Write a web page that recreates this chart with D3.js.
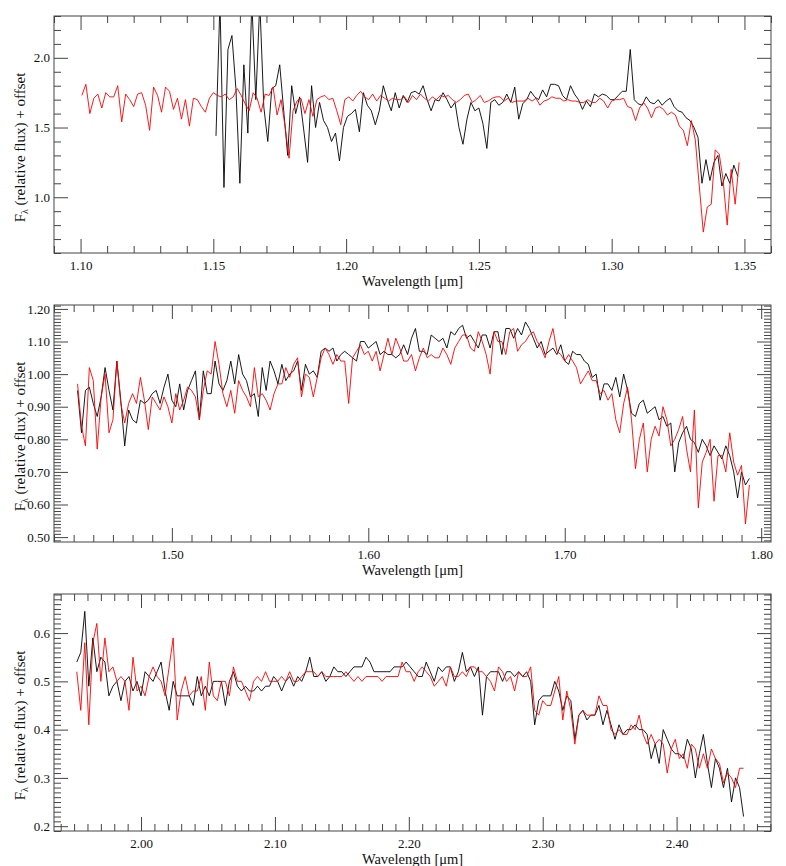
<!DOCTYPE html>
<html>
<head>
<meta charset="utf-8">
<script src="https://cdn.jsdelivr.net/npm/d3@7"></script>
<style>
  body { margin: 0; background: #fff; }
</style>
</head>
<body>
<div id="chart"></div>
<script>
// ---- data: spectra on a regular wavelength grid (start, step) ----
// J band
var jBlackStart = 1.151, jBlackStep = 0.0015;
var jBlack = [
  1.44, 2.40, 1.07, 2.06, 2.16, 1.78, 1.10, 1.95, 1.46, 2.40,
  1.70, 2.40, 1.65, 1.40, 1.78, 1.80, 1.95, 1.62, 1.30, 1.80,
  1.60, 1.72, 1.49, 1.25, 1.80, 1.50, 1.68, 1.55, 1.50, 1.40,
  1.46, 1.26, 1.50, 1.58, 1.60, 1.63, 1.47, 1.75, 1.66, 1.62,
  1.52, 1.62, 1.80, 1.70, 1.62, 1.75, 1.64, 1.73, 1.68, 1.75,
  1.76, 1.74, 1.80, 1.70, 1.62, 1.70, 1.69, 1.75, 1.70, 1.64,
  1.68, 1.50, 1.38, 1.56, 1.68, 1.62, 1.64, 1.53, 1.35, 1.68,
  1.70, 1.66, 1.68, 1.74, 1.68, 1.79, 1.56, 1.67, 1.70, 1.76,
  1.72, 1.70, 1.77, 1.72, 1.81, 1.81, 1.80, 1.73, 1.70, 1.80,
  1.74, 1.70, 1.63, 1.69, 1.65, 1.74, 1.72, 1.74, 1.73, 1.70,
  1.70, 1.73, 1.76, 1.76, 2.06, 1.70, 1.67, 1.66, 1.72, 1.68,
  1.67, 1.70, 1.66, 1.69, 1.71, 1.65, 1.62, 1.61, 1.57, 1.55,
  1.50, 1.43, 1.10, 1.27, 1.12, 1.25, 1.30, 1.08, 1.17, 1.10,
  1.23, 1.15
];
var jRedStart = 1.1005, jRedStep = 0.0015;
var jRed = [
  1.73, 1.81, 1.60, 1.71, 1.74, 1.64, 1.75, 1.72, 1.72, 1.80,
  1.54, 1.74, 1.70, 1.65, 1.74, 1.75, 1.66, 1.48, 1.79, 1.73,
  1.61, 1.79, 1.76, 1.63, 1.71, 1.56, 1.70, 1.51, 1.71, 1.70,
  1.65, 1.61, 1.71, 1.75, 1.73, 1.72, 1.74, 1.70, 1.72, 1.78,
  1.73, 1.67, 1.62, 1.75, 1.71, 1.61, 1.74, 1.73, 1.79, 1.59,
  1.70, 1.51, 1.28, 1.62, 1.69, 1.71, 1.60, 1.70, 1.58, 1.70,
  1.72, 1.73, 1.70, 1.71, 1.62, 1.52, 1.70, 1.72, 1.69, 1.73,
  1.76, 1.72, 1.70, 1.74, 1.69, 1.73, 1.71, 1.69, 1.71, 1.70,
  1.70, 1.72, 1.68, 1.73, 1.70, 1.74, 1.71, 1.69, 1.72, 1.70,
  1.73, 1.72, 1.73, 1.70, 1.68, 1.70, 1.73, 1.74, 1.68, 1.70,
  1.73, 1.68, 1.69, 1.71, 1.72, 1.72, 1.69, 1.71, 1.68, 1.69,
  1.69, 1.69, 1.71, 1.69, 1.71, 1.66, 1.69, 1.70, 1.72, 1.71,
  1.71, 1.69, 1.70, 1.69, 1.69, 1.68, 1.68, 1.70, 1.68, 1.68,
  1.71, 1.69, 1.64, 1.69, 1.70, 1.70, 1.71, 1.65, 1.64, 1.55,
  1.64, 1.68, 1.64, 1.57, 1.64, 1.65, 1.63, 1.59, 1.61, 1.59,
  1.51, 1.48, 1.37, 1.55, 1.41, 1.08, 0.75, 0.93, 0.95, 1.34,
  1.31, 1.12, 0.80, 1.20, 0.95, 1.25
];

// H band
var hStart = 1.452, hStep = 0.002;
var hBlack = [
  0.95, 0.82, 0.95, 0.96, 0.91, 0.87, 0.93, 1.02, 0.95, 0.89,
  1.04, 0.92, 0.78, 0.89, 0.86, 0.85, 0.92, 0.91, 0.92, 0.94,
  0.95, 0.91, 0.96, 1.00, 0.92, 0.90, 0.97, 0.89, 0.95, 0.98,
  1.01, 0.86, 1.01, 0.94, 0.94, 1.04, 0.97, 0.95, 0.98, 1.04,
  0.97, 1.06, 1.00, 0.98, 0.93, 0.94, 0.87, 1.02, 0.95, 1.04,
  1.01, 0.97, 1.03, 0.98, 1.00, 1.01, 1.04, 0.95, 1.03, 1.00,
  1.01, 0.99, 1.07, 1.08, 1.07, 1.08, 1.04, 1.06, 1.07, 1.06,
  1.05, 1.04, 1.10, 1.10, 1.08, 1.09, 1.10, 1.06, 1.07, 1.06,
  1.06, 1.05, 1.06, 1.09, 1.06, 1.11, 1.14, 1.07, 1.07, 1.06,
  1.12, 1.11, 1.10, 1.11, 1.08, 1.13, 1.12, 1.14, 1.15, 1.11,
  1.12, 1.10, 1.08, 1.12, 1.12, 1.08, 1.13, 1.13, 1.06, 1.14,
  1.14, 1.11, 1.14, 1.12, 1.16, 1.14, 1.11, 1.08, 1.10, 1.06,
  1.07, 1.08, 1.06, 1.09, 1.04, 1.03, 1.07, 1.06, 1.06, 1.04,
  1.03, 0.99, 1.00, 0.92, 0.97, 0.97, 0.95, 0.99, 0.93, 1.00,
  0.95, 0.88, 0.87, 0.91, 0.92, 0.88, 0.89, 0.90, 0.86, 0.87,
  0.84, 0.85, 0.70, 0.79, 0.82, 0.84, 0.80, 0.79, 0.76, 0.80,
  0.78, 0.75, 0.78, 0.76, 0.74, 0.78, 0.75, 0.70, 0.62, 0.70,
  0.66, 0.68
];
var hRed = [
  0.97, 0.84, 0.78, 1.02, 0.98, 0.77, 0.93, 1.00, 0.82, 0.86,
  1.04, 0.91, 0.85, 0.91, 0.94, 0.91, 0.99, 0.92, 0.83, 0.93,
  0.91, 0.89, 0.93, 0.90, 0.85, 0.94, 0.89, 0.92, 0.96, 0.95,
  0.93, 0.86, 0.95, 1.01, 1.00, 1.10, 1.03, 0.94, 0.90, 0.95,
  0.88, 0.98, 0.95, 0.93, 0.90, 1.02, 0.93, 0.94, 0.92, 0.89,
  0.94, 0.97, 0.97, 1.02, 0.99, 1.03, 1.05, 0.93, 1.00, 0.99,
  0.93, 0.99, 1.05, 1.08, 1.06, 1.03, 1.06, 1.04, 1.04, 0.91,
  1.05, 1.07, 1.09, 1.06, 1.07, 1.04, 1.07, 1.01, 1.06, 1.11,
  1.06, 1.11, 1.08, 1.04, 1.04, 1.06, 1.01, 1.05, 1.08, 1.05,
  1.06, 1.05, 1.05, 1.08, 1.06, 1.03, 1.08, 1.10, 1.12, 1.12,
  1.08, 1.07, 1.13, 1.10, 1.06, 1.00, 1.13, 1.10, 1.10, 1.06,
  1.13, 1.14, 1.07, 1.09, 1.10, 1.12, 1.13, 1.10, 1.08, 1.05,
  1.10, 1.14, 1.07, 1.06, 1.04, 1.06, 1.04, 1.02, 0.97, 0.99,
  1.01, 0.98, 0.98, 0.94, 0.95, 0.92, 0.94, 0.86, 0.82, 0.91,
  0.96, 0.86, 0.71, 0.80, 0.85, 0.70, 0.80, 0.84, 0.81, 0.90,
  0.86, 0.78, 0.80, 0.83, 0.87, 0.77, 0.70, 0.89, 0.59, 0.73,
  0.76, 0.80, 0.61, 0.75, 0.75, 0.70, 0.82, 0.73, 0.69, 0.72,
  0.54, 0.66
];

// K band
var kStart = 1.952, kStep = 0.003;
var kBlack = [
  0.54, 0.56, 0.645, 0.49, 0.59, 0.52, 0.55, 0.54, 0.47, 0.49,
  0.50, 0.46, 0.50, 0.51, 0.48, 0.50, 0.47, 0.52, 0.51, 0.50,
  0.52, 0.54, 0.48, 0.44, 0.50, 0.47, 0.47, 0.47, 0.47, 0.45,
  0.51, 0.47, 0.49, 0.47, 0.50, 0.50, 0.50, 0.45, 0.50, 0.52,
  0.49, 0.48, 0.49, 0.48, 0.48, 0.49, 0.48, 0.49, 0.49, 0.51,
  0.50, 0.48, 0.50, 0.51, 0.49, 0.51, 0.50, 0.52, 0.55, 0.51,
  0.51, 0.52, 0.50, 0.51, 0.53, 0.52, 0.52, 0.51, 0.52, 0.53,
  0.53, 0.53, 0.55, 0.54, 0.52, 0.52, 0.52, 0.52, 0.52, 0.53,
  0.53, 0.53, 0.54, 0.53, 0.52, 0.51, 0.51, 0.54, 0.52, 0.50,
  0.53, 0.52, 0.53, 0.53, 0.50, 0.52, 0.56, 0.52, 0.53, 0.51,
  0.53, 0.43, 0.51, 0.52, 0.52, 0.52, 0.50, 0.52, 0.52, 0.51,
  0.52, 0.51, 0.52, 0.50, 0.41, 0.46, 0.47, 0.47, 0.47, 0.50,
  0.48, 0.44, 0.47, 0.46, 0.38, 0.43, 0.44, 0.42, 0.43, 0.43,
  0.45, 0.41, 0.44, 0.41, 0.38, 0.41, 0.39, 0.40, 0.40, 0.41,
  0.40, 0.40, 0.39, 0.34, 0.37, 0.33, 0.40, 0.38, 0.36, 0.35,
  0.35, 0.34, 0.38, 0.36, 0.30, 0.35, 0.39, 0.33, 0.28, 0.34,
  0.32, 0.28, 0.32, 0.25, 0.30, 0.28, 0.22
];
var kRed = [
  0.52, 0.44, 0.58, 0.41, 0.58, 0.62, 0.50, 0.59, 0.52, 0.53,
  0.50, 0.51, 0.50, 0.44, 0.55, 0.48, 0.49, 0.47, 0.51, 0.53,
  0.51, 0.50, 0.47, 0.53, 0.59, 0.42, 0.48, 0.51, 0.47, 0.48,
  0.48, 0.51, 0.44, 0.54, 0.47, 0.46, 0.50, 0.50, 0.47, 0.53,
  0.50, 0.50, 0.48, 0.46, 0.50, 0.51, 0.50, 0.52, 0.50, 0.50,
  0.50, 0.51, 0.50, 0.52, 0.50, 0.50, 0.51, 0.52, 0.52, 0.52,
  0.51, 0.52, 0.51, 0.51, 0.51, 0.51, 0.51, 0.52, 0.51, 0.50,
  0.51, 0.50, 0.51, 0.51, 0.51, 0.51, 0.50, 0.51, 0.51, 0.51,
  0.51, 0.54, 0.52, 0.52, 0.50, 0.52, 0.53, 0.52, 0.51, 0.49,
  0.50, 0.51, 0.49, 0.53, 0.51, 0.51, 0.52, 0.51, 0.53, 0.53,
  0.52, 0.52, 0.51, 0.50, 0.48, 0.53, 0.52, 0.50, 0.51, 0.48,
  0.52, 0.51, 0.51, 0.53, 0.44, 0.43, 0.46, 0.45, 0.45, 0.48,
  0.51, 0.42, 0.48, 0.44, 0.37, 0.43, 0.44, 0.43, 0.43, 0.43,
  0.47, 0.45, 0.45, 0.40, 0.39, 0.40, 0.39, 0.39, 0.41, 0.40,
  0.43, 0.39, 0.37, 0.39, 0.37, 0.38, 0.37, 0.31, 0.36, 0.38,
  0.34, 0.35, 0.32, 0.37, 0.36, 0.32, 0.35, 0.32, 0.36, 0.34,
  0.33, 0.29, 0.31, 0.30, 0.28, 0.32, 0.32
];

// tick labels
var jTicksX = [1.10, 1.15, 1.20, 1.25, 1.30, 1.35];
var jTicksY = [1.0, 1.5, 2.0];
var hTicksX = [1.50, 1.60, 1.70, 1.80];
var hTicksY = [0.50, 0.60, 0.70, 0.80, 0.90, 1.00, 1.10, 1.20];
var kTicksX = [2.00, 2.10, 2.20, 2.30, 2.40];
var kTicksY = [0.2, 0.3, 0.4, 0.5, 0.6];

var width = 786, height = 866;
var left = 54, right = 771;
var serif = "'Liberation Serif', 'Times New Roman', serif";

var svg = d3.select("#chart")
    .append("svg")
    .attr("width", width)
    .attr("height", height);

function toPoints(start, step, values) {
    return values.map(function(v, i) { return [start + i * step, v]; });
}

function minorTicks(dom, step, majors) {
    var a = Math.ceil(dom[0] / step - 1e-6), b = Math.floor(dom[1] / step + 1e-6);
    return d3.range(a, b + 1)
        .map(function(k) { return +(k * step).toFixed(4); })
        .filter(function(t) {
            return !majors.some(function(m) { return Math.abs(m - t) < 1e-6; });
        });
}

var panels = [
    {top: 16, bottom: 253, xDom: [1.09, 1.36], yDom: [0.6, 2.3],
     xTicks: jTicksX, yTicks: jTicksY, xMinor: 0.01, yMinor: 0.1,
     xFmt: ".2f", yFmt: ".1f",
     black: toPoints(jBlackStart, jBlackStep, jBlack),
     red: toPoints(jRedStart, jRedStep, jRed)},
    {top: 305, bottom: 542, xDom: [1.44, 1.805], yDom: [0.485, 1.212],
     xTicks: hTicksX, yTicks: hTicksY, xMinor: 0.01, yMinor: 0.01,
     xFmt: ".2f", yFmt: ".2f",
     black: toPoints(hStart, hStep, hBlack),
     red: toPoints(hStart, hStep, hRed)},
    {top: 594, bottom: 831, xDom: [1.935, 2.4705], yDom: [0.19, 0.681],
     xTicks: kTicksX, yTicks: kTicksY, xMinor: 0.01, yMinor: 0.01,
     xFmt: ".2f", yFmt: ".1f",
     black: toPoints(kStart, kStep, kBlack),
     red: toPoints(kStart, kStep, kRed)}
];

panels.forEach(function(p, idx) {
    var x = d3.scaleLinear().domain(p.xDom).range([left, right]);
    var y = d3.scaleLinear().domain(p.yDom).range([p.bottom, p.top]);
    var g = svg.append("g");

    // clip to the plot box
    var clipId = "clip" + idx;
    svg.append("clipPath").attr("id", clipId)
        .append("rect")
        .attr("x", left).attr("y", p.top)
        .attr("width", right - left).attr("height", p.bottom - p.top);

    var line = d3.line()
        .x(function(d) { return x(d[0]); })
        .y(function(d) { return y(d[1]); });

    var lines = g.append("g").attr("clip-path", "url(#" + clipId + ")");
    lines.append("path")
        .datum(p.black)
        .attr("d", line)
        .attr("fill", "none")
        .attr("stroke", "#000")
        .attr("stroke-width", 0.9);
    lines.append("path")
        .datum(p.red)
        .attr("d", line)
        .attr("fill", "none")
        .attr("stroke", "#ff0000")
        .attr("stroke-width", 0.9);

    var xMin = minorTicks(p.xDom, p.xMinor, p.xTicks);
    var yMin = minorTicks(p.yDom, p.yMinor, p.yTicks);

    function styleAxis(sel) {
        sel.select(".domain").remove();
        sel.attr("color", "#444")
            .attr("font-family", serif)
            .attr("font-size", 13);
        sel.selectAll("text").attr("fill", "#111");
    }

    // bottom: major with labels, minor without
    g.append("g").attr("transform", "translate(0," + p.bottom + ")")
        .call(d3.axisBottom(x).tickValues(p.xTicks).tickFormat(d3.format(p.xFmt))
            .tickSizeInner(-14).tickSizeOuter(0).tickPadding(7.8))
        .call(styleAxis);
    g.append("g").attr("transform", "translate(0," + p.bottom + ")")
        .call(d3.axisBottom(x).tickValues(xMin).tickFormat("")
            .tickSizeInner(-7).tickSizeOuter(0))
        .call(styleAxis);
    // top: ticks only
    g.append("g").attr("transform", "translate(0," + p.top + ")")
        .call(d3.axisTop(x).tickValues(p.xTicks).tickFormat("")
            .tickSizeInner(-14).tickSizeOuter(0))
        .call(styleAxis);
    g.append("g").attr("transform", "translate(0," + p.top + ")")
        .call(d3.axisTop(x).tickValues(xMin).tickFormat("")
            .tickSizeInner(-7).tickSizeOuter(0))
        .call(styleAxis);
    // left
    g.append("g").attr("transform", "translate(" + left + ",0)")
        .call(d3.axisLeft(y).tickValues(p.yTicks).tickFormat(d3.format(p.yFmt))
            .tickSizeInner(-14).tickSizeOuter(0).tickPadding(4))
        .call(styleAxis);
    g.append("g").attr("transform", "translate(" + left + ",0)")
        .call(d3.axisLeft(y).tickValues(yMin).tickFormat("")
            .tickSizeInner(-7).tickSizeOuter(0))
        .call(styleAxis);
    // right
    g.append("g").attr("transform", "translate(" + right + ",0)")
        .call(d3.axisRight(y).tickValues(p.yTicks).tickFormat("")
            .tickSizeInner(-14).tickSizeOuter(0))
        .call(styleAxis);
    g.append("g").attr("transform", "translate(" + right + ",0)")
        .call(d3.axisRight(y).tickValues(yMin).tickFormat("")
            .tickSizeInner(-7).tickSizeOuter(0))
        .call(styleAxis);

    // frame
    g.append("rect")
        .attr("x", left).attr("y", p.top)
        .attr("width", right - left).attr("height", p.bottom - p.top)
        .attr("fill", "none")
        .attr("stroke", "#444")
        .attr("stroke-width", 1);

    // x title
    g.append("text")
        .attr("x", (left + right) / 2)
        .attr("y", p.bottom + 33)
        .attr("text-anchor", "middle")
        .attr("font-family", serif)
        .attr("font-size", 14.5)
        .attr("fill", "#111")
        .text("Wavelength [\u03bcm]");

    // y title, rotated
    var yt = g.append("text")
        .attr("transform", "translate(25," + ((p.top + p.bottom) / 2 + 13) + ") rotate(-90)")
        .attr("text-anchor", "middle")
        .attr("font-family", serif)
        .attr("font-size", 15)
        .attr("fill", "#111");
    yt.append("tspan").text("F");
    yt.append("tspan").attr("font-size", 10).attr("dy", 3).text("\u03bb");
    yt.append("tspan").attr("dy", -3).text(" (relative flux) + offset");
});
</script>
</body>
</html>
